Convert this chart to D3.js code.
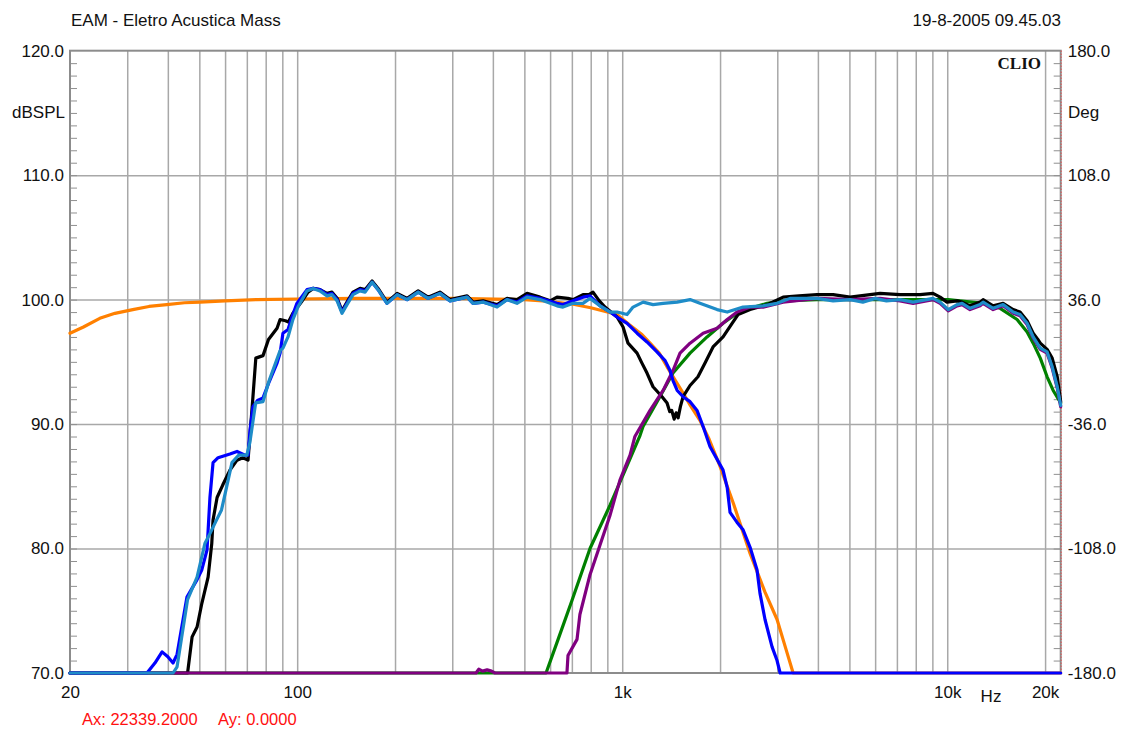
<!DOCTYPE html>
<html><head><meta charset="utf-8">
<script src="https://cdn.jsdelivr.net/npm/d3@7"></script>
<style>
body{margin:0;background:#fff;}
svg{display:block;font-family:"Liberation Sans",Arial,sans-serif;}
</style></head>
<body><svg id="c" width="1124" height="731"></svg>
<script>
// ---- data ----
const titleLeft = "EAM - Eletro Acustica Mass";
const titleRight = "19-8-2005 09.45.03";
const cursorX = "Ax: 22339.2000";
const cursorY = "Ay: 0.0000";
const freqDomain = [20, 22339];
const dbDomain = [70, 120];
const degDomain = [-180, 180];
const leftTicks = [70, 80, 90, 100, 110, 120];
const rightTicks = [-180, -108, -36, 36, 108, 180];
const xLabelTicks = [20, 100, 1000, 10000, 20000];
const xLabelText = ["20", "100", "1k", "10k", "20k"];
const xGridTicks = [30,40,50,60,70,80,90,100,200,300,400,500,600,700,800,900,1000,2000,3000,4000,5000,6000,7000,8000,9000,10000,20000];
const yGridTicks = [80, 90, 100, 110];

const orange = [[20,97.3],[22,97.8],[24.7,98.5],[27.5,98.9],[31.2,99.2],[35,99.45],[39.7,99.6],[45,99.75],[50.3,99.8],[60,99.9],[75,100.0],[100,100.05],[150,100.1],[300,100.1],[500,100.0],[600,99.85],[700,99.65],[800,99.35],[900,99.0],[964,98.8],[1050,98.0],[1150,97.2],[1218,96.5],[1300,95.7],[1374,94.6],[1450,93.6],[1539,92.5],[1620,91.5],[1734,90.3],[1850,88.8],[2000,86.6],[2200,83.6],[2474,79.6],[2750,76.5],[2995,74.3],[3200,71.8],[3356,70],[22339,70]];

const blue = [[20,70],[34.5,70],[36.5,70.8],[38.4,71.7],[40,71.3],[41.5,70.8],[42.7,71.5],[45.8,76.1],[49.2,77.5],[50.9,78.3],[52.8,79.9],[53.9,84.1],[55.1,86.9],[57.1,87.3],[62.1,87.6],[65.3,87.8],[69.1,87.5],[70.6,87.5],[71.6,89.5],[73.1,91.4],[75.5,91.9],[78.5,92.1],[82,93.4],[86.7,94.9],[88.6,95.7],[90.4,97.3],[93.7,97.6],[96.4,98.6],[99.8,99.7],[107.2,100.8],[111.9,100.9],[117.5,100.8],[123.5,100.4],[128,100.5],[132.7,100.0],[137.4,99.0],[142.3,99.7],[148.5,100.5],[156.1,100.8],[161.8,100.7],[170,101.4],[177.4,100.8],[188.9,99.7],[203,100.4],[217.9,100.0],[235.6,100.6],[252.8,100.1],[274.9,100.5],[295.3,99.9],[333.3,100.2],[347.6,99.7],[373.3,99.8],[412,99.5],[442.3,100.0],[474.4,99.8],[509.6,100.3],[558.7,100.1],[630,99.7],[657.4,99.6],[706.1,99.9],[757.4,100.2],[796,100.3],[855,99.5],[918,99.0],[964,98.6],[1035,98.1],[1111,97.3],[1192,96.6],[1279,95.8],[1355,95.1],[1403,94.3],[1433,93.5],[1476,92.7],[1539,92.2],[1617,91.8],[1699,91.1],[1774,89.8],[1862,88.2],[2043,86.3],[2104,84.9],[2147,82.9],[2256,82.1],[2354,81.5],[2474,80.1],[2598,78.3],[2654,76.4],[2750,74.3],[2891,72.1],[2995,71.0],[3061,70],[22339,70]];

const black = [[20,70],[46,70],[47.5,72.9],[49.2,73.7],[50.9,75.6],[53.2,77.7],[54.6,80.4],[55.1,82.3],[56.7,84.1],[59,85.1],[62.1,86.3],[65.3,87.1],[68,87.3],[70.6,87.1],[73.1,92.2],[74.6,95.3],[78.5,95.5],[81.6,96.8],[86.7,97.7],[88.6,98.4],[92,98.3],[94,98.2],[97,98.9],[103,99.8],[108,100.6],[112,100.9],[117.5,100.8],[123.5,100.5],[128,100.6],[132.7,100.1],[137.4,99.1],[142.3,99.8],[148.5,100.6],[156.1,100.9],[161.8,100.8],[170,101.5],[177.4,100.9],[188.9,99.8],[203,100.5],[217.9,100.1],[235.6,100.7],[252.8,100.2],[274.9,100.6],[295.3,100.0],[333.3,100.3],[347.6,99.8],[373.3,99.9],[412,99.6],[442.3,100.1],[474.4,100.0],[509.6,100.5],[558.7,100.2],[600,99.9],[630,100.2],[680,100.1],[706.1,100.0],[757.4,100.4],[790,100.4],[813,100.6],[850,99.9],[885,99.4],[964,98.6],[1006,97.8],[1042,96.5],[1111,95.7],[1150,94.9],[1192,94.1],[1244,93.0],[1326,92.2],[1374,91.7],[1400,91.0],[1420,91.1],[1445,90.4],[1465,90.9],[1486,90.5],[1510,91.4],[1539,92.2],[1617,93.1],[1710,93.8],[1798,94.9],[1903,96.2],[2043,97.0],[2178,98.1],[2272,98.8],[2474,99.2],[2792,99.6],[3126,100.2],[3500,100.3],[3977,100.4],[4455,100.4],[5024,100.2],[5394,100.3],[6212,100.5],[7160,100.4],[8247,100.4],[9040,100.5],[9508,100.2],[9980,99.8],[10720,99.9],[11110,99.8],[11750,99.5],[12620,99.8],[12890,100.0],[13840,99.5],[14860,99.7],[15950,99.2],[16750,99.0],[17610,98.3],[18380,97.3],[19000,96.8],[19330,96.5],[20290,96.0],[21030,95.3],[21800,93.8],[22339,91.8]];

const cyan = [[20,70],[41.5,70],[42.7,70.5],[46,75.9],[49.2,77.7],[52,80.4],[53.9,81.2],[56.5,82.3],[58.5,83.1],[60.6,84.9],[63,86.9],[66,87.5],[70,87.5],[71.5,88.5],[74.5,91.7],[78.5,91.8],[82,93.5],[88.6,95.9],[90.4,96.1],[93.7,97.0],[97,98.4],[100.5,99.4],[107.2,100.7],[111.9,100.9],[117.5,100.7],[123.5,100.3],[128,100.4],[132.7,99.9],[137.4,98.9],[142.3,99.6],[148.5,100.4],[156.1,100.7],[161.8,100.6],[170,101.4],[177.4,100.8],[188.9,99.7],[203,100.4],[217.9,100.0],[235.6,100.6],[252.8,100.1],[274.9,100.5],[295.3,99.9],[333.3,100.2],[347.6,99.7],[373.3,99.8],[412,99.4],[442.3,100.0],[474.4,99.7],[509.6,100.2],[558.7,100.0],[630,99.5],[657.4,99.4],[706.1,99.7],[757.4,99.7],[796,100.1],[855,99.5],[918,99.0],[964,99.0],[1000,98.9],[1035,98.8],[1080,99.4],[1160,99.8],[1244,99.6],[1336,99.7],[1476,99.8],[1617,100.0],[1734,99.7],[1959,99.2],[2104,99.0],[2354,99.4],[2712,99.5],[2995,99.7],[3283,100.1],[3977,100.1],[4455,99.9],[5024,100.0],[5500,99.8],[6000,100.1],[6500,99.9],[7160,100.0],[7851,99.8],[9040,100.1],[9508,99.8],[10070,99.2],[10720,99.6],[11110,99.7],[11750,99.3],[12620,99.6],[12890,99.8],[13840,99.3],[14860,99.6],[15950,99.0],[16750,98.8],[17610,98.1],[18380,97.0],[19330,96.1],[20290,95.8],[21030,94.6],[21800,93.0],[22339,91.5]];

const purple = [[20,70],[355,70],[362,70.3],[372,70.15],[384,70.25],[396,70.15],[406,70],[676,70],[681,71.4],[726,72.7],[741,74.7],[796,77.9],[855,80.3],[918,82.7],[984,85.5],[1057,87.5],[1094,89.0],[1218,91.1],[1336,92.7],[1433,94.3],[1506,95.7],[1617,96.5],[1774,97.3],[1959,97.7],[2104,98.4],[2256,99.0],[2474,99.4],[2712,99.4],[3126,99.8],[3977,100.1],[5024,100.0],[6212,100.1],[7160,99.9],[7851,99.7],[9040,100.0],[9508,99.7],[10070,99.1],[10720,99.5],[11110,99.6],[11750,99.2],[12620,99.5],[12890,99.7],[13840,99.2],[14860,99.5],[15950,98.9],[16750,98.7],[17610,98.0],[18380,96.9],[19330,96.0],[20290,95.7],[21030,94.5],[21800,92.9],[22339,91.4]];

const green = [[20,70],[583,70],[635,72.7],[700,75.8],[796,80.0],[918,83.5],[1021,86.3],[1135,89.1],[1159,89.8],[1306,92.2],[1433,94.1],[1617,95.7],[1824,97.0],[2043,98.1],[2256,98.9],[2474,99.3],[2792,99.7],[3126,99.9],[3977,100.0],[7000,100.0],[10070,100.0],[12890,99.7],[14550,99.3],[16400,98.4],[17610,97.4],[18380,96.5],[19330,95.3],[20290,93.8],[21180,92.7],[22339,91.7]];

const seriesList = [
  {data: orange, color: "#ff8000"},
  {data: green, color: "#008000"},
  {data: black, color: "#000000"},
  {data: purple, color: "#800080"},
  {data: blue, color: "#0000ff"},
  {data: cyan, color: "#1e8cc8"}
];

// ---- drawing ----
const svg = d3.select("#c");
const L = 70, R = 1060.7, T = 50.7, B = 673;
const FS = 17;
const FONT = "Liberation Sans, Arial, sans-serif";
const x = d3.scaleLog().domain(freqDomain).range([L, R]);
const y = d3.scaleLinear().domain(dbDomain).range([B, T]);
const y2 = d3.scaleLinear().domain(degDomain).range([B, T]);
const fmt1 = v => d3.format(".1f")(v).replace("\u2212", "-");

const gridCol = "#a8a8a8";
svg.append("g").attr("transform", `translate(0,${B})`)
  .call(d3.axisBottom(x).tickValues(xGridTicks).tickSize(-(B - T)).tickFormat(""))
  .call(g => g.select(".domain").remove())
  .call(g => g.selectAll("line").attr("stroke", gridCol).attr("stroke-width", 1.5));
svg.append("g").attr("transform", `translate(${L},0)`)
  .call(d3.axisLeft(y).tickValues(yGridTicks).tickSize(-(R - L)).tickFormat(""))
  .call(g => g.select(".domain").remove())
  .call(g => g.selectAll("line").attr("stroke", gridCol).attr("stroke-width", 1.5));

const minor = d3.range(71, 120, 1);
svg.append("g").attr("transform", `translate(${L},0)`)
  .call(d3.axisLeft(y).tickValues(minor).tickSize(-7).tickFormat(""))
  .call(g => g.select(".domain").remove())
  .call(g => g.selectAll("line").attr("stroke", "#909090").attr("stroke-width", 1));
svg.append("g").attr("transform", `translate(${R},0)`)
  .call(d3.axisRight(y).tickValues(minor).tickSize(-7).tickFormat(""))
  .call(g => g.select(".domain").remove())
  .call(g => g.selectAll("line").attr("stroke", "#909090").attr("stroke-width", 1));

svg.append("rect").attr("x", L).attr("y", T).attr("width", R - L).attr("height", B - T)
  .attr("fill", "none").attr("stroke", "#8c8c8c").attr("stroke-width", 2);
svg.append("line").attr("x1", R + 0.5).attr("x2", R + 0.5).attr("y1", T).attr("y2", B)
  .attr("stroke", "#ff3030").attr("stroke-width", 1).attr("stroke-dasharray", "1,2");

const line = d3.line().x(d => x(d[0])).y(d => y(d[1])).curve(d3.curveLinear);
svg.append("g").selectAll("path").data(seriesList).join("path")
  .attr("d", d => line(d.data)).attr("fill", "none")
  .attr("stroke", d => d.color).attr("stroke-width", 3.2)
  .attr("stroke-linejoin", "round").attr("stroke-linecap", "round");

svg.append("g").attr("transform", `translate(${L},0)`)
  .call(d3.axisLeft(y).tickValues(leftTicks).tickSize(0).tickPadding(6).tickFormat(fmt1))
  .call(g => g.select(".domain").remove())
  .call(g => g.selectAll("text").attr("font-size", FS).attr("fill", "#111").attr("font-family", FONT));
svg.append("g").attr("transform", `translate(${R},0)`)
  .call(d3.axisRight(y2).tickValues(rightTicks).tickSize(0).tickPadding(7).tickFormat(fmt1))
  .call(g => g.select(".domain").remove())
  .call(g => g.selectAll("text").attr("font-size", FS).attr("fill", "#111").attr("font-family", FONT));
svg.append("g").attr("transform", `translate(0,${B})`)
  .call(d3.axisBottom(x).tickValues(xLabelTicks).tickSize(0).tickPadding(13).tickFormat((d, i) => xLabelText[i]))
  .call(g => g.select(".domain").remove())
  .call(g => g.selectAll("text").attr("font-size", FS).attr("fill", "#111").attr("font-family", FONT));

const txt = (s, xx, yy, anchor, size, extra) => {
  const t = svg.append("text").attr("x", xx).attr("y", yy).attr("text-anchor", anchor)
    .attr("font-size", size).attr("fill", "#111").text(s);
  if (extra) extra(t);
  return t;
};
txt(titleLeft, 71, 26, "start", FS);
txt(titleRight, 1061, 26, "end", FS);
txt("dBSPL", 65, 118, "end", FS);
txt("Deg", 1068, 118, "start", FS);
txt("Hz", 991, 702, "middle", FS);
txt("CLIO", 1041, 69, "end", FS, t => t.attr("font-family", "Liberation Serif, Times New Roman, serif").attr("font-weight", "bold"));
txt(cursorX, 82, 725, "start", 16.5, t => t.attr("fill", "#ff1010"));
txt(cursorY, 218, 725, "start", 16.5, t => t.attr("fill", "#ff1010"));
</script></body></html>
